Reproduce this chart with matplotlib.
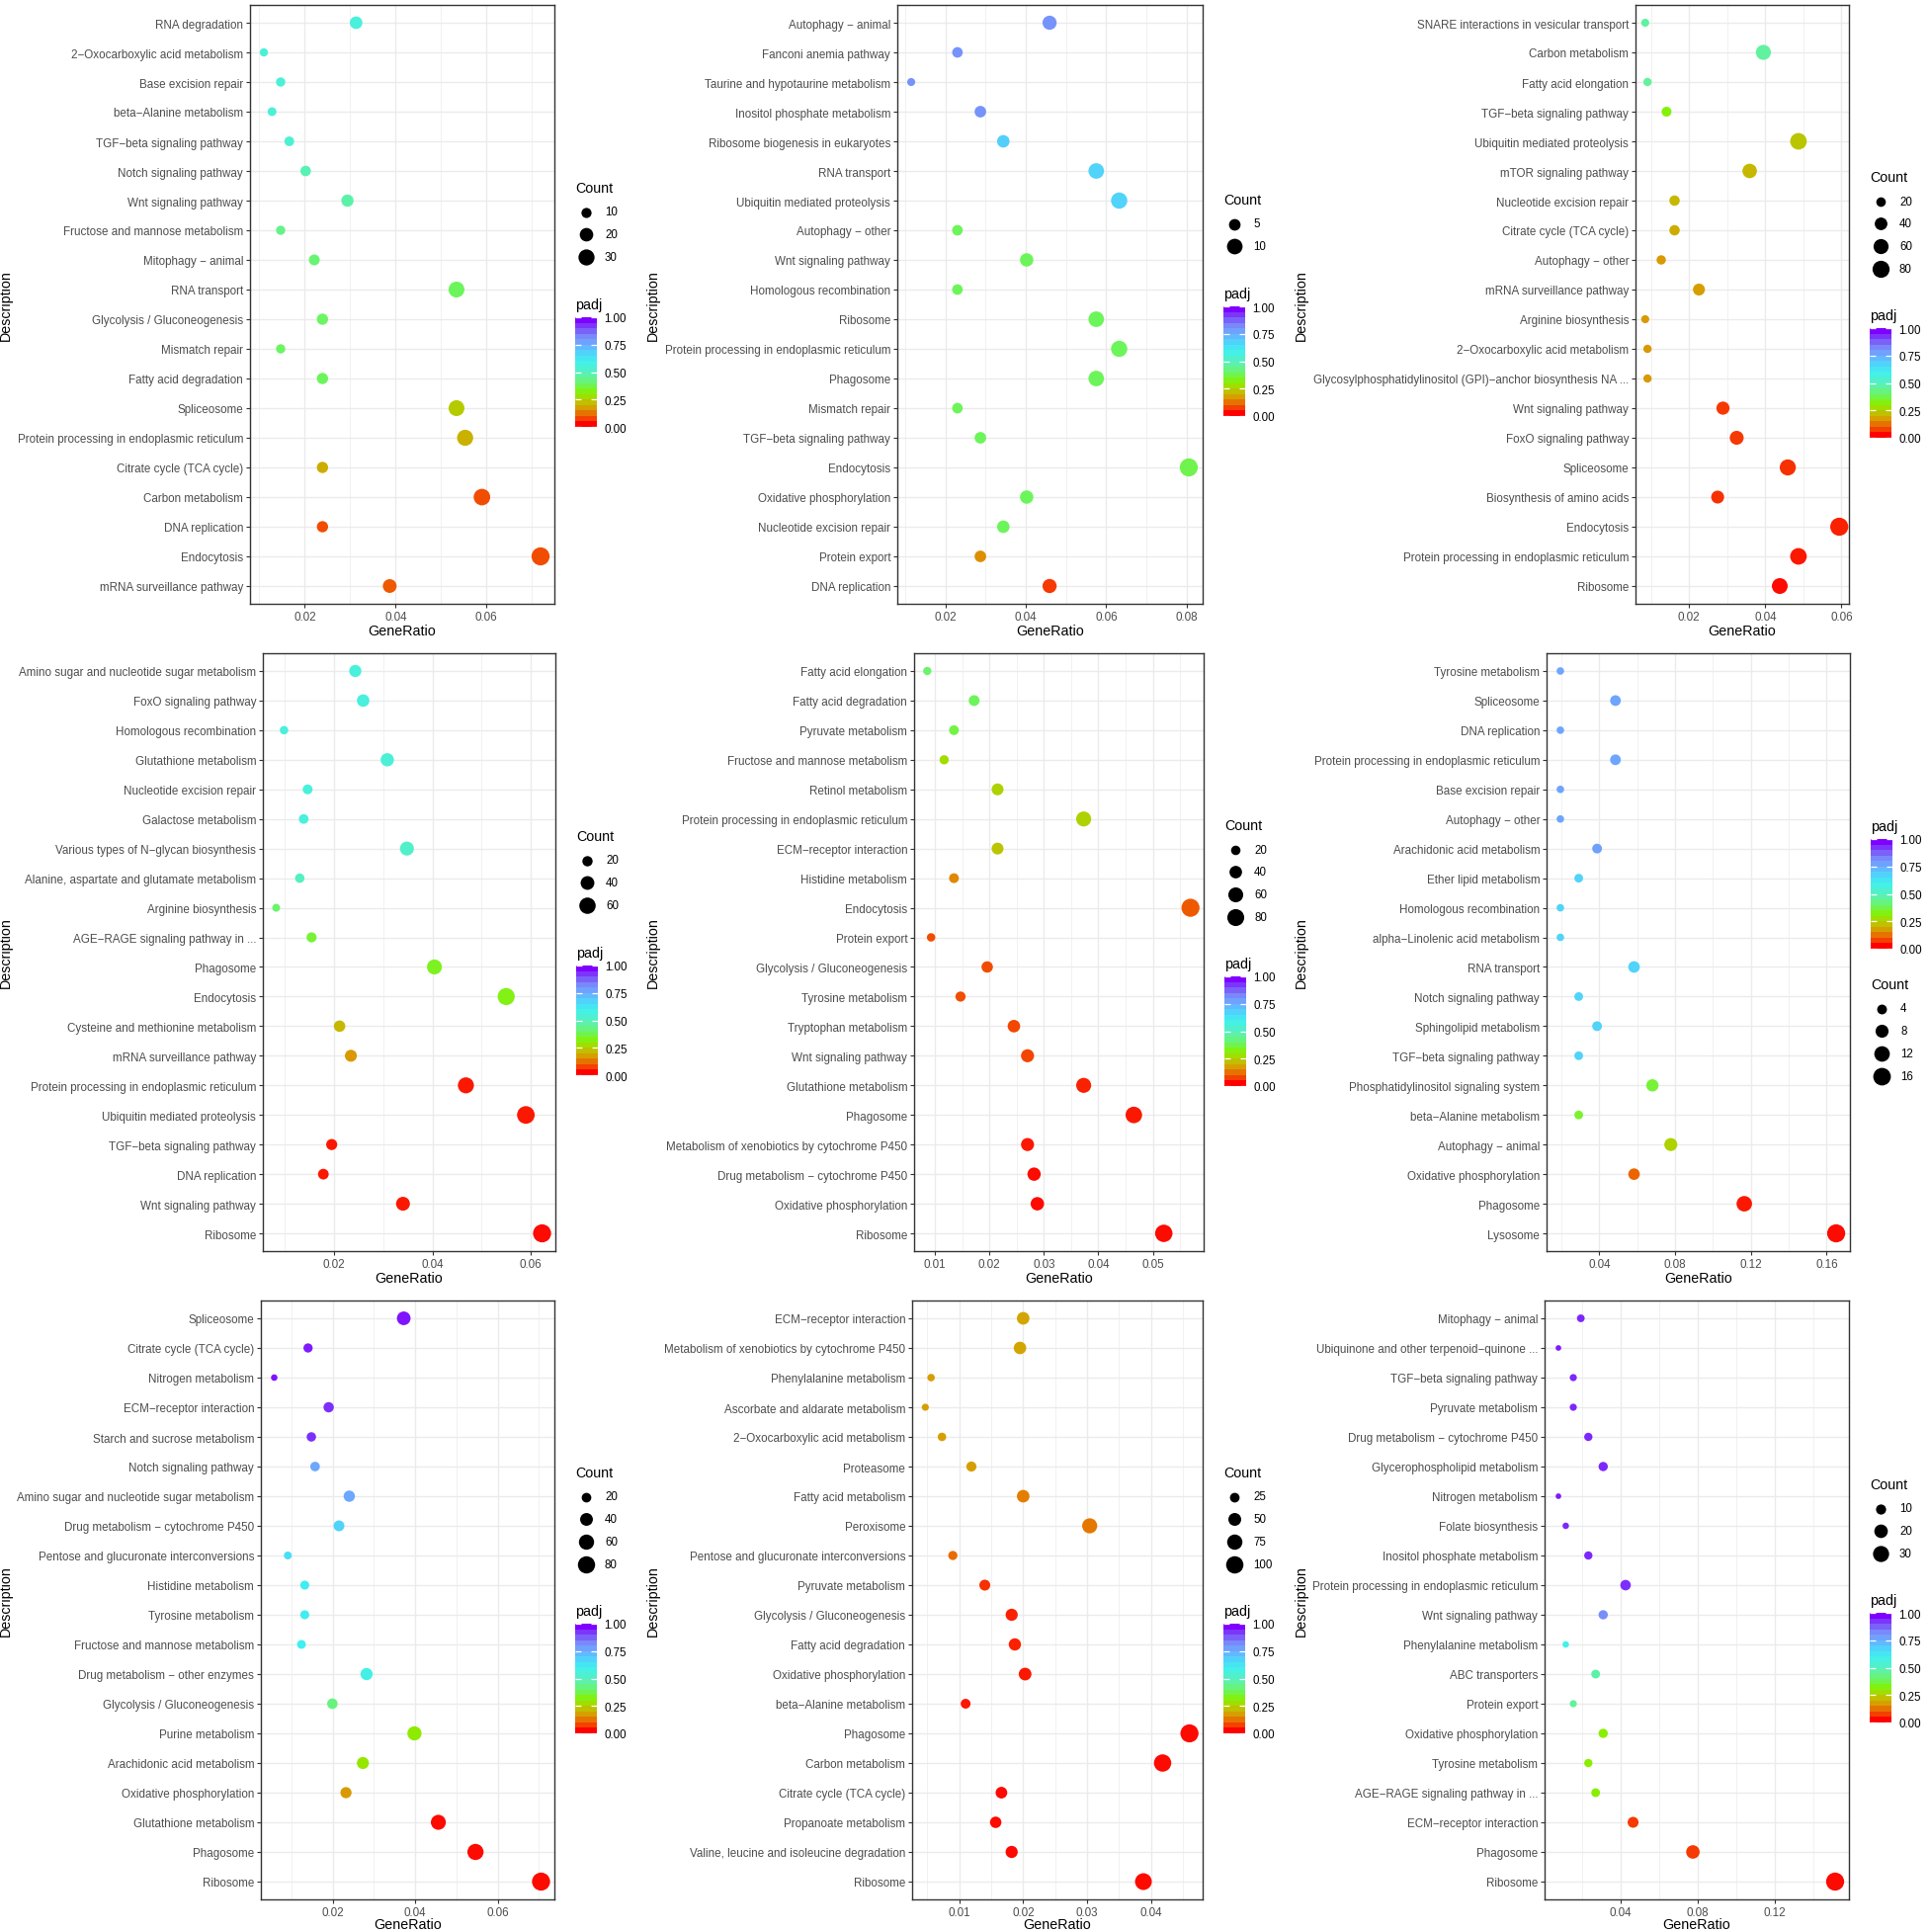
import numpy as np
import matplotlib
matplotlib.use("Agg")
import matplotlib.pyplot as plt
import matplotlib.cm as cm
from matplotlib.colors import LinearSegmentedColormap
from matplotlib.lines import Line2D
from matplotlib.ticker import MultipleLocator, FormatStrFormatter

plt.rcParams['font.family'] = ['Liberation Sans', 'DejaVu Sans']

# ---------------- data ----------------
p1_terms = ["RNA degradation", "2−Oxocarboxylic acid metabolism", "Base excision repair",
            "beta−Alanine metabolism", "TGF−beta signaling pathway", "Notch signaling pathway",
            "Wnt signaling pathway", "Fructose and mannose metabolism", "Mitophagy − animal",
            "RNA transport", "Glycolysis / Gluconeogenesis", "Mismatch repair",
            "Fatty acid degradation", "Spliceosome", "Protein processing in endoplasmic reticulum",
            "Citrate cycle (TCA cycle)", "Carbon metabolism", "DNA replication", "Endocytosis",
            "mRNA surveillance pathway"]
p1_ratio = [0.0313, 0.0110, 0.0147, 0.0128, 0.0166, 0.0202, 0.0294, 0.0147, 0.0221, 0.0534,
            0.0239, 0.0147, 0.0239, 0.0534, 0.0553, 0.0239, 0.0590, 0.0239, 0.0719, 0.0387]
p1_count = [17, 6, 8, 7, 9, 11, 16, 8, 12, 29, 13, 8, 13, 29, 30, 13, 32, 13, 39, 21]
p1_padj = [0.56, 0.55, 0.55, 0.55, 0.54, 0.49, 0.47, 0.43, 0.41, 0.38, 0.39, 0.39, 0.38,
           0.23, 0.19, 0.18, 0.07, 0.07, 0.07, 0.08]
p1_breaks = [10, 20, 30]

p2_terms = ["Autophagy − animal", "Fanconi anemia pathway", "Taurine and hypotaurine metabolism",
            "Inositol phosphate metabolism", "Ribosome biogenesis in eukaryotes", "RNA transport",
            "Ubiquitin mediated proteolysis", "Autophagy − other", "Wnt signaling pathway",
            "Homologous recombination", "Ribosome", "Protein processing in endoplasmic reticulum",
            "Phagosome", "Mismatch repair", "TGF−beta signaling pathway", "Endocytosis",
            "Oxidative phosphorylation", "Nucleotide excision repair", "Protein export",
            "DNA replication"]
p2_ratio = [0.0459, 0.0230, 0.0115, 0.0287, 0.0344, 0.0575, 0.0632, 0.0230, 0.0402, 0.0230,
            0.0575, 0.0632, 0.0575, 0.0230, 0.0287, 0.0805, 0.0402, 0.0344, 0.0287, 0.0459]
p2_count = [8, 4, 2, 5, 6, 10, 11, 4, 7, 4, 10, 11, 10, 4, 5, 14, 7, 6, 5, 8]
p2_padj = [0.82, 0.82, 0.82, 0.82, 0.69, 0.68, 0.68, 0.38, 0.38, 0.38, 0.38, 0.38, 0.38,
           0.38, 0.38, 0.37, 0.38, 0.38, 0.14, 0.05]
p2_breaks = [5, 10]

p3_terms = ["SNARE interactions in vesicular transport", "Carbon metabolism", "Fatty acid elongation",
            "TGF−beta signaling pathway", "Ubiquitin mediated proteolysis", "mTOR signaling pathway",
            "Nucleotide excision repair", "Citrate cycle (TCA cycle)", "Autophagy − other",
            "mRNA surveillance pathway", "Arginine biosynthesis", "2−Oxocarboxylic acid metabolism",
            "Glycosylphosphatidylinositol (GPI)−anchor biosynthesis NA ...", "Wnt signaling pathway",
            "FoxO signaling pathway", "Spliceosome", "Biosynthesis of amino acids", "Endocytosis",
            "Protein processing in endoplasmic reticulum", "Ribosome"]
p3_ratio = [0.0085, 0.0395, 0.0091, 0.0141, 0.0487, 0.0359, 0.0162, 0.0162, 0.0127, 0.0226,
            0.0085, 0.0091, 0.0091, 0.0289, 0.0325, 0.0459, 0.0275, 0.0594, 0.0487, 0.0438]
p3_count = [13, 60, 14, 22, 75, 55, 25, 25, 19, 35, 13, 14, 14, 44, 50, 70, 42, 91, 75, 67]
p3_padj = [0.46, 0.46, 0.45, 0.31, 0.22, 0.20, 0.20, 0.18, 0.15, 0.16, 0.15, 0.15, 0.15,
           0.05, 0.05, 0.04, 0.04, 0.03, 0.02, 0.01]
p3_breaks = [20, 40, 60, 80]

p4_terms = ["Amino sugar and nucleotide sugar metabolism", "FoxO signaling pathway",
            "Homologous recombination", "Glutathione metabolism", "Nucleotide excision repair",
            "Galactose metabolism", "Various types of N−glycan biosynthesis",
            "Alanine, aspartate and glutamate metabolism", "Arginine biosynthesis",
            "AGE−RAGE signaling pathway in ...", "Phagosome", "Endocytosis",
            "Cysteine and methionine metabolism", "mRNA surveillance pathway",
            "Protein processing in endoplasmic reticulum", "Ubiquitin mediated proteolysis",
            "TGF−beta signaling pathway", "DNA replication", "Wnt signaling pathway", "Ribosome"]
p4_ratio = [0.0243, 0.0259, 0.0098, 0.0308, 0.0146, 0.0138, 0.0348, 0.0130, 0.0082, 0.0154,
            0.0404, 0.0550, 0.0211, 0.0234, 0.0468, 0.0590, 0.0195, 0.0178, 0.0340, 0.0623]
p4_count = [30, 32, 12, 37, 18, 17, 42, 16, 10, 19, 49, 66, 26, 29, 57, 71, 24, 22, 41, 75]
p4_padj = [0.56, 0.56, 0.56, 0.55, 0.56, 0.56, 0.52, 0.51, 0.40, 0.35, 0.33, 0.32, 0.20,
           0.15, 0.02, 0.02, 0.02, 0.02, 0.02, 0.01]
p4_breaks = [20, 40, 60]

p5_terms = ["Fatty acid elongation", "Fatty acid degradation", "Pyruvate metabolism",
            "Fructose and mannose metabolism", "Retinol metabolism",
            "Protein processing in endoplasmic reticulum", "ECM−receptor interaction",
            "Histidine metabolism", "Endocytosis", "Protein export", "Glycolysis / Gluconeogenesis",
            "Tyrosine metabolism", "Tryptophan metabolism", "Wnt signaling pathway",
            "Glutathione metabolism", "Phagosome", "Metabolism of xenobiotics by cytochrome P450",
            "Drug metabolism − cytochrome P450", "Oxidative phosphorylation", "Ribosome"]
p5_ratio = [0.0086, 0.0172, 0.0135, 0.0117, 0.0215, 0.0373, 0.0215, 0.0135, 0.0569, 0.0093,
            0.0196, 0.0147, 0.0245, 0.0270, 0.0373, 0.0465, 0.0270, 0.0282, 0.0288, 0.0520]
p5_count = [14, 28, 22, 19, 35, 61, 35, 22, 93, 15, 32, 24, 40, 44, 61, 76, 44, 46, 47, 85]
p5_padj = [0.40, 0.38, 0.36, 0.26, 0.24, 0.24, 0.22, 0.13, 0.08, 0.07, 0.07, 0.07, 0.06,
           0.06, 0.03, 0.02, 0.02, 0.01, 0.01, 0.01]
p5_breaks = [20, 40, 60, 80]

p6_terms = ["Tyrosine metabolism", "Spliceosome", "DNA replication",
            "Protein processing in endoplasmic reticulum", "Base excision repair",
            "Autophagy − other", "Arachidonic acid metabolism", "Ether lipid metabolism",
            "Homologous recombination", "alpha−Linolenic acid metabolism", "RNA transport",
            "Notch signaling pathway", "Sphingolipid metabolism", "TGF−beta signaling pathway",
            "Phosphatidylinositol signaling system", "beta−Alanine metabolism",
            "Autophagy − animal", "Oxidative phosphorylation", "Phagosome", "Lysosome"]
p6_ratio = [0.0194, 0.0485, 0.0194, 0.0485, 0.0194, 0.0194, 0.0388, 0.0291, 0.0194, 0.0194,
            0.0583, 0.0291, 0.0388, 0.0291, 0.0680, 0.0291, 0.0777, 0.0583, 0.1165, 0.1650]
p6_count = [2, 5, 2, 5, 2, 2, 4, 3, 2, 2, 6, 3, 4, 3, 7, 3, 8, 6, 12, 17]
p6_padj = [0.78, 0.78, 0.78, 0.78, 0.78, 0.78, 0.79, 0.68, 0.68, 0.68, 0.68, 0.68, 0.68,
           0.68, 0.35, 0.34, 0.24, 0.09, 0.02, 0.01]
p6_breaks = [4, 8, 12, 16]

p7_terms = ["Spliceosome", "Citrate cycle (TCA cycle)", "Nitrogen metabolism",
            "ECM−receptor interaction", "Starch and sucrose metabolism", "Notch signaling pathway",
            "Amino sugar and nucleotide sugar metabolism", "Drug metabolism − cytochrome P450",
            "Pentose and glucuronate interconversions", "Histidine metabolism",
            "Tyrosine metabolism", "Fructose and mannose metabolism",
            "Drug metabolism − other enzymes", "Glycolysis / Gluconeogenesis", "Purine metabolism",
            "Arachidonic acid metabolism", "Oxidative phosphorylation", "Glutathione metabolism",
            "Phagosome", "Ribosome"]
p7_ratio = [0.0372, 0.0140, 0.0058, 0.0190, 0.0148, 0.0157, 0.0240, 0.0215, 0.0091, 0.0132,
            0.0132, 0.0124, 0.0282, 0.0199, 0.0398, 0.0273, 0.0232, 0.0456, 0.0546, 0.0705]
p7_count = [47, 18, 7, 24, 19, 20, 30, 27, 12, 17, 17, 16, 36, 25, 51, 35, 29, 58, 69, 89]
p7_padj = [0.98, 0.97, 0.98, 0.95, 0.95, 0.77, 0.77, 0.68, 0.65, 0.61, 0.61, 0.60, 0.58,
           0.42, 0.29, 0.28, 0.15, 0.01, 0.01, 0.01]
p7_breaks = [20, 40, 60, 80]

p8_terms = ["ECM−receptor interaction", "Metabolism of xenobiotics by cytochrome P450",
            "Phenylalanine metabolism", "Ascorbate and aldarate metabolism",
            "2−Oxocarboxylic acid metabolism", "Proteasome", "Fatty acid metabolism",
            "Peroxisome", "Pentose and glucuronate interconversions", "Pyruvate metabolism",
            "Glycolysis / Gluconeogenesis", "Fatty acid degradation", "Oxidative phosphorylation",
            "beta−Alanine metabolism", "Phagosome", "Carbon metabolism",
            "Citrate cycle (TCA cycle)", "Propanoate metabolism",
            "Valine, leucine and isoleucine degradation", "Ribosome"]
p8_ratio = [0.0200, 0.0195, 0.0056, 0.0047, 0.0073, 0.0119, 0.0200, 0.0304, 0.0090, 0.0140,
            0.0182, 0.0187, 0.0203, 0.0110, 0.0460, 0.0418, 0.0166, 0.0157, 0.0182, 0.0388]
p8_count = [48, 47, 13, 11, 18, 28, 48, 73, 22, 34, 44, 45, 49, 26, 110, 100, 40, 38, 44, 93]
p8_padj = [0.17, 0.17, 0.16, 0.16, 0.16, 0.16, 0.12, 0.11, 0.10, 0.04, 0.03, 0.03, 0.02,
           0.02, 0.01, 0.01, 0.01, 0.01, 0.01, 0.01]
p8_breaks = [25, 50, 75, 100]

p9_terms = ["Mitophagy − animal", "Ubiquinone and other terpenoid−quinone ...",
            "TGF−beta signaling pathway", "Pyruvate metabolism",
            "Drug metabolism − cytochrome P450", "Glycerophospholipid metabolism",
            "Nitrogen metabolism", "Folate biosynthesis", "Inositol phosphate metabolism",
            "Protein processing in endoplasmic reticulum", "Wnt signaling pathway",
            "Phenylalanine metabolism", "ABC transporters", "Protein export",
            "Oxidative phosphorylation", "Tyrosine metabolism",
            "AGE−RAGE signaling pathway in ...", "ECM−receptor interaction", "Phagosome",
            "Ribosome"]
p9_ratio = [0.0194, 0.0078, 0.0155, 0.0155, 0.0233, 0.0310, 0.0078, 0.0116, 0.0233, 0.0426,
            0.0310, 0.0116, 0.0271, 0.0155, 0.0310, 0.0233, 0.0271, 0.0465, 0.0775, 0.1512]
p9_count = [5, 2, 4, 4, 6, 8, 2, 3, 6, 11, 8, 3, 7, 4, 8, 6, 7, 12, 20, 39]
p9_padj = [0.96, 0.97, 0.96, 0.96, 0.96, 0.96, 0.97, 0.96, 0.96, 0.95, 0.83, 0.58, 0.47,
           0.45, 0.30, 0.30, 0.30, 0.05, 0.05, 0.01]
p9_breaks = [10, 20, 30]

# padj colour gradient (red -> violet)
grad_pos = [0.0, 0.05, 0.10, 0.15, 0.20, 0.25, 0.30, 0.38, 0.45, 0.52, 0.60, 0.68, 0.76,
            0.84, 0.92, 1.0]
grad_col = ["#FF0000", "#F53D00", "#E86E00", "#D99A00", "#C6B800", "#A8D800", "#88F000",
            "#6CF55A", "#62F29A", "#52F0C8", "#40F0F0", "#50D4FA", "#6AAEFF", "#7A8AFA",
            "#7A50F8", "#8000FF"]
cmap = LinearSegmentedColormap.from_list("padj", list(zip(grad_pos, grad_col)))

# ---------------- layout (pixels in the 1952x1956 canvas) ----------------
W, H = 1952, 1956
DPI = 100


def fx(x):
    return x / W


def fy(y):
    return 1 - y / H


def dot_px(c, cmax):
    return 2 + 16.3 * np.sqrt(np.asarray(c, float) / cmax)


fig = plt.figure(figsize=(W / DPI, H / DPI), dpi=DPI)

TXT = "#4D4D4D"
GRID = "#EBEBEB"


def draw_panel(terms, ratio, count, padj, breaks, box, step, desc_x, count_y, padj_y):
    l, t, r, b = box
    ax = fig.add_axes([fx(l), fy(b), (r - l) / W, (b - t) / H])
    ax.set_axisbelow(True)
    ratio = np.asarray(ratio)
    cmax = max(count)
    n = len(terms)
    ax.scatter(ratio, terms, s=(dot_px(count, cmax) * 0.72) ** 2, c=padj, cmap=cmap,
               vmin=0, vmax=1, linewidths=0, zorder=3)
    ax.set_ylim(n - 1 + 0.6, -0.6)
    span = ratio.max() - ratio.min()
    ax.set_xlim(ratio.min() - 0.05 * span, ratio.max() + 0.05 * span)
    ax.xaxis.set_major_locator(MultipleLocator(step))
    ax.xaxis.set_minor_locator(MultipleLocator(step / 2))
    ax.xaxis.set_major_formatter(FormatStrFormatter('%g'))
    ax.grid(True, which='major', color=GRID, linewidth=1.0)
    ax.grid(True, which='minor', axis='x', color=GRID, linewidth=0.5)
    ax.tick_params(which='minor', length=0)
    ax.tick_params(which='major', length=2.7, width=0.8, color='#333333',
                   labelcolor=TXT, labelsize=8.4, pad=2.2)
    for s in ax.spines.values():
        s.set_color('#333333')
        s.set_linewidth(1.0)

    fig.text(fx(desc_x), fy((t + b) / 2), "Description", rotation=90,
             ha='center', va='center', fontsize=10.3)
    if b + 27 + 8 < H:
        fig.text(fx((l + r) / 2), fy(b + 27), "GeneRatio", ha='center',
                 va='center', fontsize=10.3)
    else:
        # bottom row: title sits right on the lower edge of the canvas
        fig.text(fx((l + r) / 2), fy(H - 1), "GeneRatio", ha='center',
                 va='bottom', fontsize=10.3)

    # size legend
    x0 = r + 21
    fig.text(fx(x0), fy(count_y), "Count", ha='left', va='center', fontsize=10.3)
    for k, v in enumerate(breaks):
        yk = count_y + 24.5 + 22.8 * k
        fig.add_artist(Line2D([fx(x0 + 11)], [fy(yk)], marker='o', linestyle='none',
                              markersize=dot_px(v, cmax) * 0.72, color='black',
                              markeredgewidth=0, transform=fig.transFigure))
        fig.text(fx(x0 + 30), fy(yk), str(v), ha='left', va='center', fontsize=8.3)

    # colour legend
    fig.text(fx(x0), fy(padj_y), "padj", ha='left', va='center', fontsize=10.3)
    cb_top = padj_y + 13
    cax = fig.add_axes([fx(x0), fy(cb_top + 111), 22 / W, 111 / H])
    sm = cm.ScalarMappable(norm=plt.Normalize(0, 1), cmap=cmap.resampled(20))
    cb = fig.colorbar(sm, cax=cax, ticks=[0, 0.25, 0.5, 0.75, 1.0])
    cb.outline.set_visible(False)
    cax.yaxis.set_major_formatter(FormatStrFormatter('%.2f'))
    cax.tick_params(axis='y', which='major', direction='in', length=4.4, width=0.9,
                    color='white', left=True, right=True, labelsize=8.3, pad=5.5,
                    labelcolor='black')
    cax.tick_params(axis='y', which='minor', length=0)
    return ax


panels = [
    (p1_terms, p1_ratio, p1_count, p1_padj, p1_breaks, (253, 6, 561, 612), 0.02, 6, 191, 309),
    (p2_terms, p2_ratio, p2_count, p2_padj, p2_breaks, (908, 6, 1217, 612), 0.02, 661, 203, 298),
    (p3_terms, p3_ratio, p3_count, p3_padj, p3_breaks, (1655, 6, 1871, 612), 0.02, 1317, 180, 320),
    (p4_terms, p4_ratio, p4_count, p4_padj, p4_breaks, (266, 662, 562, 1267), 0.02, 6, 847, 965),
    (p5_terms, p5_ratio, p5_count, p5_padj, p5_breaks, (925, 662, 1218, 1267), 0.01, 661, 836, 976),
    (p6_terms, p6_ratio, p6_count, p6_padj, p6_breaks, (1565, 662, 1872, 1267), 0.04, 1317, 997, 837),
    (p7_terms, p7_ratio, p7_count, p7_padj, p7_breaks, (264, 1317, 561, 1923), 0.02, 6, 1491, 1631),
    (p8_terms, p8_ratio, p8_count, p8_padj, p8_breaks, (923, 1317, 1217, 1923), 0.01, 661, 1491, 1631),
    (p9_terms, p9_ratio, p9_count, p9_padj, p9_breaks, (1563, 1317, 1871, 1923), 0.04, 1317, 1503, 1620),
]

for args in panels:
    draw_panel(*args)

fig.savefig("out.png", dpi=DPI)
